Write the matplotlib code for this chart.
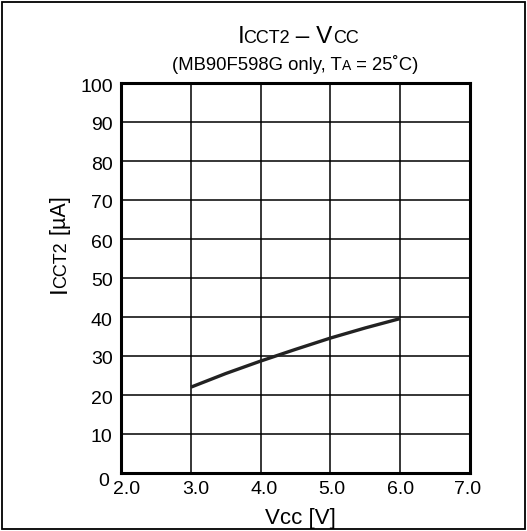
import matplotlib
matplotlib.use("Agg")
import matplotlib.pyplot as plt
import matplotlib.transforms as mtransforms
from matplotlib.patches import Rectangle

plt.rcParams['font.family'] = ['Liberation Sans', 'DejaVu Sans']

# data
vcc = [3.0, 3.5, 4.0, 4.5, 5.0, 5.5, 6.0]
icct2 = [22.0, 25.5, 28.7, 31.7, 34.6, 37.2, 39.6]
xticks = [2.0, 3.0, 4.0, 5.0, 6.0, 7.0]
yticks = [0, 10, 20, 30, 40, 50, 60, 70, 80, 90, 100]

fig = plt.figure(figsize=(5.27, 5.31), dpi=100)
ax = fig.add_axes([121/527, 1 - 473/531, 349/527, 390/531])

ax.plot(vcc, icct2, color='#222222', lw=2.4, solid_capstyle='butt')
ax.set_xlim(2, 7)
ax.set_ylim(0, 100)
ax.set_xticks(xticks)
ax.set_xticklabels([f"{t:.1f}" for t in xticks])
ax.set_yticks(yticks)
ax.set_yticklabels([str(t) for t in yticks])
ax.tick_params(length=0, labelsize=14, pad=6)
ax.grid(True, color='black', lw=1.1)
for s in ax.spines.values():
    s.set_linewidth(2.2)


def nudge(lbl, dx, dy):
    lbl.set_transform(lbl.get_transform() +
                      mtransforms.ScaledTranslation(dx/100, dy/100, fig.dpi_scale_trans))


# the original's labels are not quite centred on their ticks
ylbls = ax.get_yticklabels()
nudge(ylbls[0], -4, -6)
for lbl in ylbls[1:]:
    nudge(lbl, 0, -2)
for lbl, dx in zip(ax.get_xticklabels(), [5.5, 5, 3.5, 1, 0, -2]):
    nudge(lbl, dx, 0)

# outer frame
fig.patches.append(Rectangle((0.003, 0.003), 0.994, 0.994, transform=fig.transFigure,
                             fill=False, lw=1.3, ec='black'))

fig.canvas.draw()
r = fig.canvas.get_renderer()


def pieces(parts, x, y, rotation=0):
    # lay out text pieces of different sizes one after the other
    objs = [fig.text(0, 0, t, fontsize=fs, rotation=rotation, va='baseline', ha='left')
            for t, fs, k in parts]
    sizes = []
    for o, (t, fs, k) in zip(objs, parts):
        bb = o.get_window_extent(r)
        sizes.append((bb.height if rotation else bb.width) + k)
    total = sum(sizes)
    W, H = fig.bbox.width, fig.bbox.height
    if rotation:
        pos = y * H - total / 2
        for o, s in zip(objs, sizes):
            o.set_rotation_mode('anchor')
            o.set_position((x, pos / H))
            pos += s
    else:
        pos = x * W - total / 2
        for o, s in zip(objs, sizes):
            o.set_position((pos / W, y))
            pos += s
    return objs


pieces([("I", 17.5, -1.5), ("CCT2", 13, 0), (" – V", 17.5, 0), ("CC", 13, 0)],
       298/527, 1 - 43/531)
pieces([("(MB90F598G only, T", 13.3, 0), ("A", 10, 0), (" = 25˚C)", 13.3, 0)],
       295/527, 1 - 70/531)
pieces([("I", 17.5, -1.5), ("CCT2", 13, 0), (" [µA]", 15.5, 0)],
       66/527, 1 - 245/531, rotation=90)
pieces([("Vcc [V]", 16, 0)], 300/527, 1 - 524/531)

fig.savefig("out.png", dpi=100)
